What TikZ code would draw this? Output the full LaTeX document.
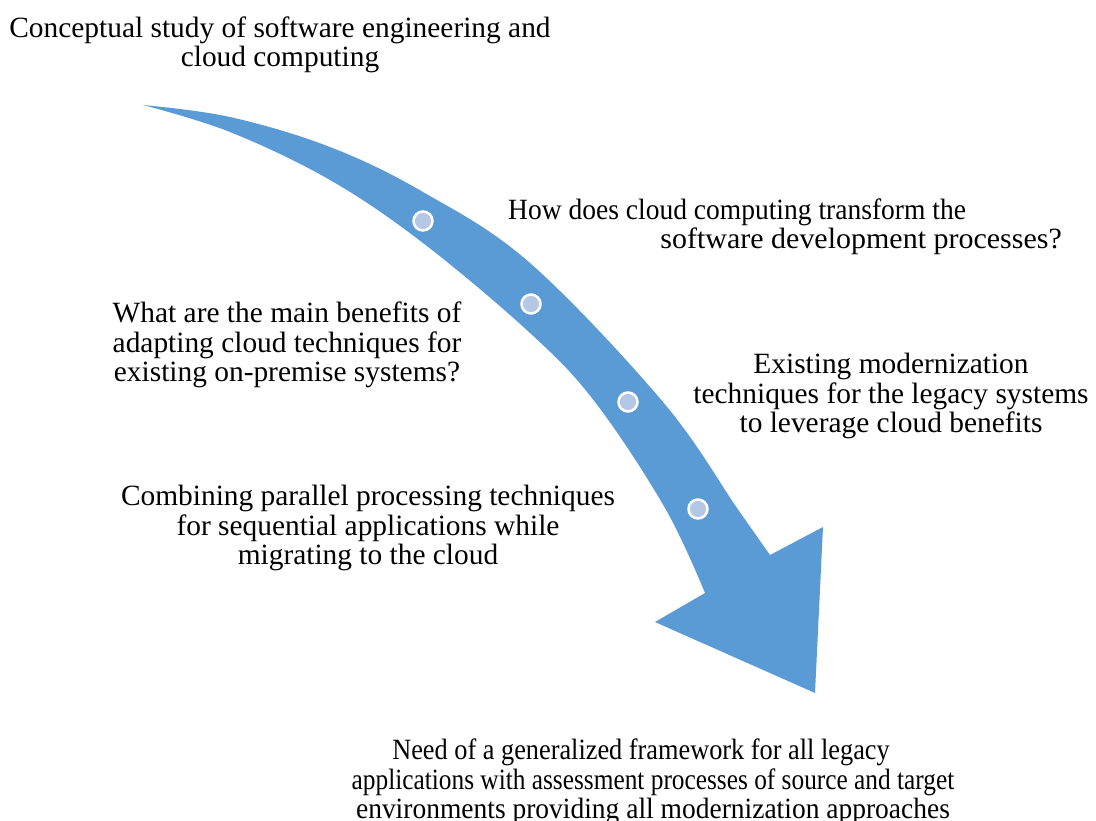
\documentclass[tikz,border=0pt]{standalone}
\usepackage{fontspec}
\setmainfont{Liberation Serif}
\definecolor{arrowblue}{HTML}{5B9BD5}
\definecolor{dotblue}{HTML}{B4C7E7}
\newcommand{\sx}[2]{\scalebox{#1}[1]{#2}}
\begin{document}
\begin{tikzpicture}[x=1pt,y=-1pt,
  lbl/.style={font=\fontsize{29.4}{29.5}\selectfont, inner sep=0pt, align=center},
  dot/.style={circle, fill=dotblue, draw=white, line width=2.5pt, minimum size=19pt, inner sep=0pt}]
\useasboundingbox (0,0) rectangle (1096,820);
\fill[arrowblue] plot[smooth, tension=0.6] coordinates {(143,105) (230,117) (330,147) (423,192) (530,263) (663,402) (737,508) (770,555)}
 -- (823,527) -- (815,693) -- (655,622) -- (705,593)
 -- plot[smooth, tension=0.6] coordinates {(705,593) (665,508) (595,402) (530,333) (423,243) (330,180) (230,132) (143,105)} -- cycle;
\node[dot] (d1) at (423,221) {};
\node[dot] (d2) at (531,304) {};
\node[dot] (d3) at (628,402) {};
\node[dot] (d4) at (698,509) {};
\node[lbl] (t1) at (280,45) {Conceptual study of software engineering and\\cloud computing};
\node[lbl, anchor=west] (t2a) at (508,212) {\sx{0.936}{How does cloud computing transform the}};
\node[lbl, anchor=east] (t2b) at (1062,241) {\sx{1.02}{software development processes?}};
\node[lbl] (t3) at (287,345) {What are the main benefits of\\adapting cloud techniques for\\existing on-premise systems?};
\node[lbl] (t4) at (891,396) {Existing modernization\\techniques for the legacy systems\\to leverage cloud benefits};
\node[lbl] (t5) at (368,528) {Combining parallel processing techniques\\for sequential applications while\\migrating to the cloud};
\node[lbl] (t6) at (653,782) {\hspace*{-24pt}\sx{0.895}{Need of a generalized framework for all legacy}\\\sx{0.862}{applications with assessment processes of source and target}\\\sx{0.935}{environments providing all modernization approaches}};
\end{tikzpicture}
\end{document}
